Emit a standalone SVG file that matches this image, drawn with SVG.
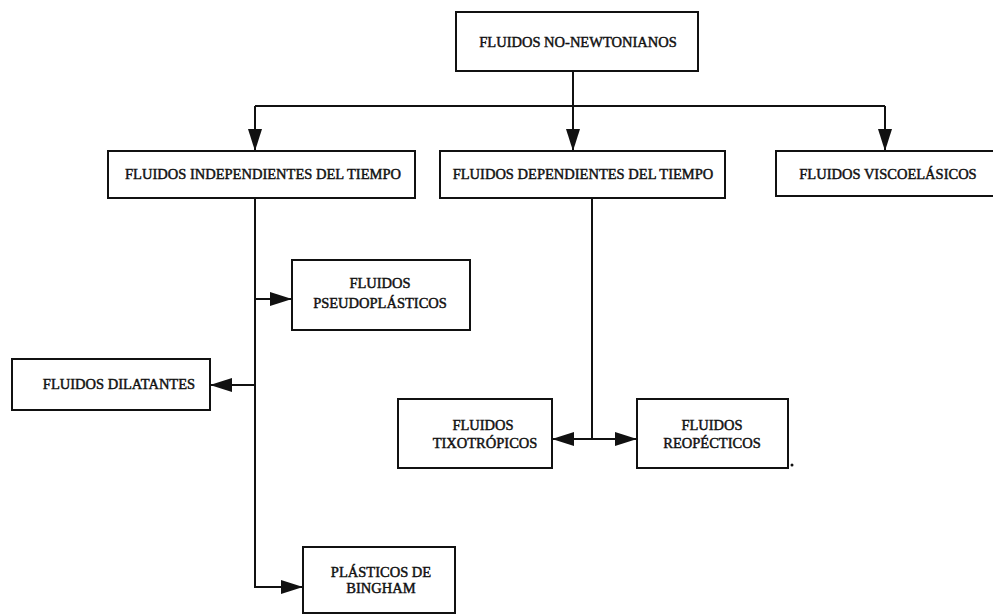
<svg xmlns="http://www.w3.org/2000/svg" width="993" height="614" viewBox="0 0 993 614">
<defs>
<marker id="arr" viewBox="0 0 22 14" refX="22" refY="7" markerWidth="22" markerHeight="14" markerUnits="userSpaceOnUse" orient="auto">
<path d="M0,0 L22,7 L0,14 Z" fill="#111"/>
</marker>
</defs>
<style>
.box{fill:#fff;stroke:#111;stroke-width:2}
.t{font-family:"Liberation Serif","Times New Roman",serif;font-size:14.5px;fill:#111;stroke:#111;stroke-width:0.45;text-anchor:middle}
.c{fill:none;stroke:#111;stroke-width:2}
</style>
<rect width="993" height="614" fill="#fff"/>
<g id="connectors">
<path class="c" d="M573,71 V106"/>
<path class="c" d="M255,106 H885"/>
<path class="c" d="M255,106 V151" marker-end="url(#arr)"/>
<path class="c" d="M573,106 V151" marker-end="url(#arr)"/>
<path class="c" d="M885,106 V151" marker-end="url(#arr)"/>
<path class="c" d="M255,198 V587 H303" marker-end="url(#arr)"/>
<path class="c" d="M255,299 H292" marker-end="url(#arr)"/>
<path class="c" d="M255,385 H210" marker-end="url(#arr)"/>
<path class="c" d="M592,198 V439"/>
<path class="c" d="M592,439 H552" marker-end="url(#arr)"/>
<path class="c" d="M592,439 H637" marker-end="url(#arr)"/>
</g>
<g id="n-no-newtonianos">
<rect class="box" x="456" y="12" width="242" height="59"/>
<text class="t" x="578" y="47">FLUIDOS NO-NEWTONIANOS</text>
</g>
<g id="n-independientes">
<rect class="box" x="108" y="151" width="307" height="47"/>
<text class="t" x="263" y="179">FLUIDOS INDEPENDIENTES DEL TIEMPO</text>
</g>
<g id="n-dependientes">
<rect class="box" x="440" y="151" width="285" height="47"/>
<text class="t" x="583" y="179">FLUIDOS DEPENDIENTES DEL TIEMPO</text>
</g>
<g id="n-viscoelasticos">
<path class="box" d="M993,151 H776 V196 H993"/>
<text class="t" x="888" y="179">FLUIDOS VISCOELÁSICOS</text>
</g>
<g id="n-pseudoplasticos">
<rect class="box" x="292" y="260" width="178" height="70"/>
<text class="t" x="380" y="288">FLUIDOS</text>
<text class="t" x="380" y="308">PSEUDOPLÁSTICOS</text>
</g>
<g id="n-dilatantes">
<rect class="box" x="12" y="359" width="198" height="51"/>
<text class="t" x="119" y="389">FLUIDOS DILATANTES</text>
</g>
<g id="n-tixotropicos">
<rect class="box" x="398" y="399" width="154" height="69"/>
<text class="t" x="483" y="430">FLUIDOS</text>
<text class="t" x="485" y="448">TIXOTRÓPICOS</text>
</g>
<g id="n-reopecticos">
<rect class="box" x="637" y="399" width="151" height="69"/>
<text class="t" x="712" y="430">FLUIDOS</text>
<text class="t" x="712" y="448">REOPÉCTICOS</text>
</g>
<g id="n-bingham">
<rect class="box" x="303" y="547" width="152" height="66"/>
<text class="t" x="381" y="577">PLÁSTICOS DE</text>
<text class="t" x="381" y="593">BINGHAM</text>
</g>
<circle cx="792" cy="465" r="1.5" fill="#111"/>
</svg>
